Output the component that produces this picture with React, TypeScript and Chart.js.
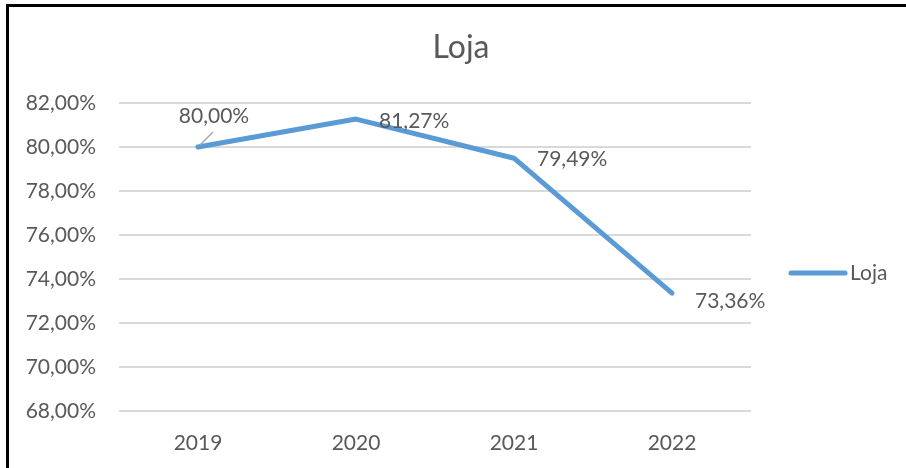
import React, { useEffect, useRef } from "react";
import { Chart, registerables } from "chart.js";

Chart.register(...registerables);

const title = "Loja";
const seriesName = "Loja";
const categories = ["2019", "2020", "2021", "2022"];
const values = [80.0, 81.27, 79.49, 73.36];
const yMin = 68;
const yMax = 82;
const yStep = 2;

const FONT = "Lato, 'Open Sans', sans-serif";
const TEXT = "#595959";
const LINE = "#5b9bd5";
const FS = 21;

const fmt = (v: number) => v.toFixed(2).replace(".", ",") + "%";

// label offsets relative to the point
const labelPlacement = [
  { align: "center", dx: 16, dy: -31, leader: true },
  { align: "left", dx: 23, dy: 2, leader: false },
  { align: "left", dx: 23, dy: 1, leader: false },
  { align: "left", dx: 23, dy: 8, leader: false },
];

const extrasPlugin = {
  id: "extras",
  afterDatasetsDraw(chart: any) {
    const ctx = chart.ctx;
    const meta = chart.getDatasetMeta(0);
    const area = chart.chartArea;
    ctx.save();
    // title
    ctx.fillStyle = TEXT;
    ctx.font = `32px ${FONT}`;
    ctx.textAlign = "center";
    ctx.textBaseline = "middle";
    ctx.fillText(title, chart.width / 2 + 8, 48);

    // data labels
    ctx.font = `${FS}px ${FONT}`;
    meta.data.forEach((pt: any, i: number) => {
      const p = labelPlacement[i];
      const tx = pt.x + p.dx;
      const ty = pt.y + p.dy;
      ctx.textAlign = p.align as CanvasTextAlign;
      ctx.textBaseline = "middle";
      ctx.fillStyle = TEXT;
      ctx.fillText(fmt(values[i]), tx, ty);
      if (p.leader) {
        ctx.strokeStyle = "#a6a6a6";
        ctx.lineWidth = 1.5;
        ctx.beginPath();
        ctx.moveTo(pt.x + 2, pt.y - 2);
        ctx.lineTo(pt.x + 15, pt.y - 15);
        ctx.stroke();
      }
    });

    // legend
    const ly = (area.top + area.bottom) / 2 + 16;
    const lx = area.right + 40;
    ctx.strokeStyle = LINE;
    ctx.lineWidth = 5;
    ctx.lineCap = "round";
    ctx.beginPath();
    ctx.moveTo(lx, ly);
    ctx.lineTo(lx + 54, ly);
    ctx.stroke();
    ctx.fillStyle = TEXT;
    ctx.font = `${FS}px ${FONT}`;
    ctx.textAlign = "left";
    ctx.textBaseline = "middle";
    ctx.fillText(seriesName, lx + 59, ly);
    ctx.restore();
  },
};

export default function App() {
  const ref = useRef<HTMLCanvasElement>(null);
  useEffect(() => {
    const chart = new Chart(ref.current!, {
      type: "line",
      data: {
        labels: categories,
        datasets: [
          {
            label: seriesName,
            data: values,
            borderColor: LINE,
            backgroundColor: LINE,
            borderWidth: 5,
            pointRadius: 0,
            borderCapStyle: "round",
            borderJoinStyle: "round",
            tension: 0,
          },
        ],
      },
      options: {
        responsive: false,
        animation: false,
        layout: { padding: { left: 0, top: 103, right: 155, bottom: 0 } },
        plugins: {
          legend: { display: false },
          title: { display: false },
          tooltip: { enabled: false },
        },
        scales: {
          x: {
            offset: true,
            grid: { display: false },
            border: { display: false },
            ticks: {
              color: TEXT,
              font: { family: FONT, size: FS },
              padding: 12,
            },
            afterFit: (s: any) => {
              s.height = 57;
            },
          },
          y: {
            min: yMin,
            max: yMax,
            grid: { color: "#d9d9d9", lineWidth: 2, drawTicks: false },
            border: { display: false },
            ticks: {
              stepSize: yStep,
              color: TEXT,
              font: { family: FONT, size: FS },
              padding: 23,
              callback: (v: any) => fmt(Number(v)),
            },
            afterFit: (s: any) => {
              s.width = 119;
            },
          },
        },
      },
      plugins: [extrasPlugin],
    });
    return () => chart.destroy();
  }, []);

  return (
    <div style={{ position: "fixed", left: 0, top: 0, width: 906, height: 468, background: "#fff", overflow: "hidden" }}>
      <canvas ref={ref} width={906} height={468} style={{ position: "absolute", left: 0, top: 0 }} />
      <div
        style={{
          position: "absolute",
          left: 6,
          top: 4,
          width: 920,
          height: 480,
          boxSizing: "border-box",
          borderTop: "3px solid #000",
          borderLeft: "3px solid #000",
        }}
      />
    </div>
  );
}
